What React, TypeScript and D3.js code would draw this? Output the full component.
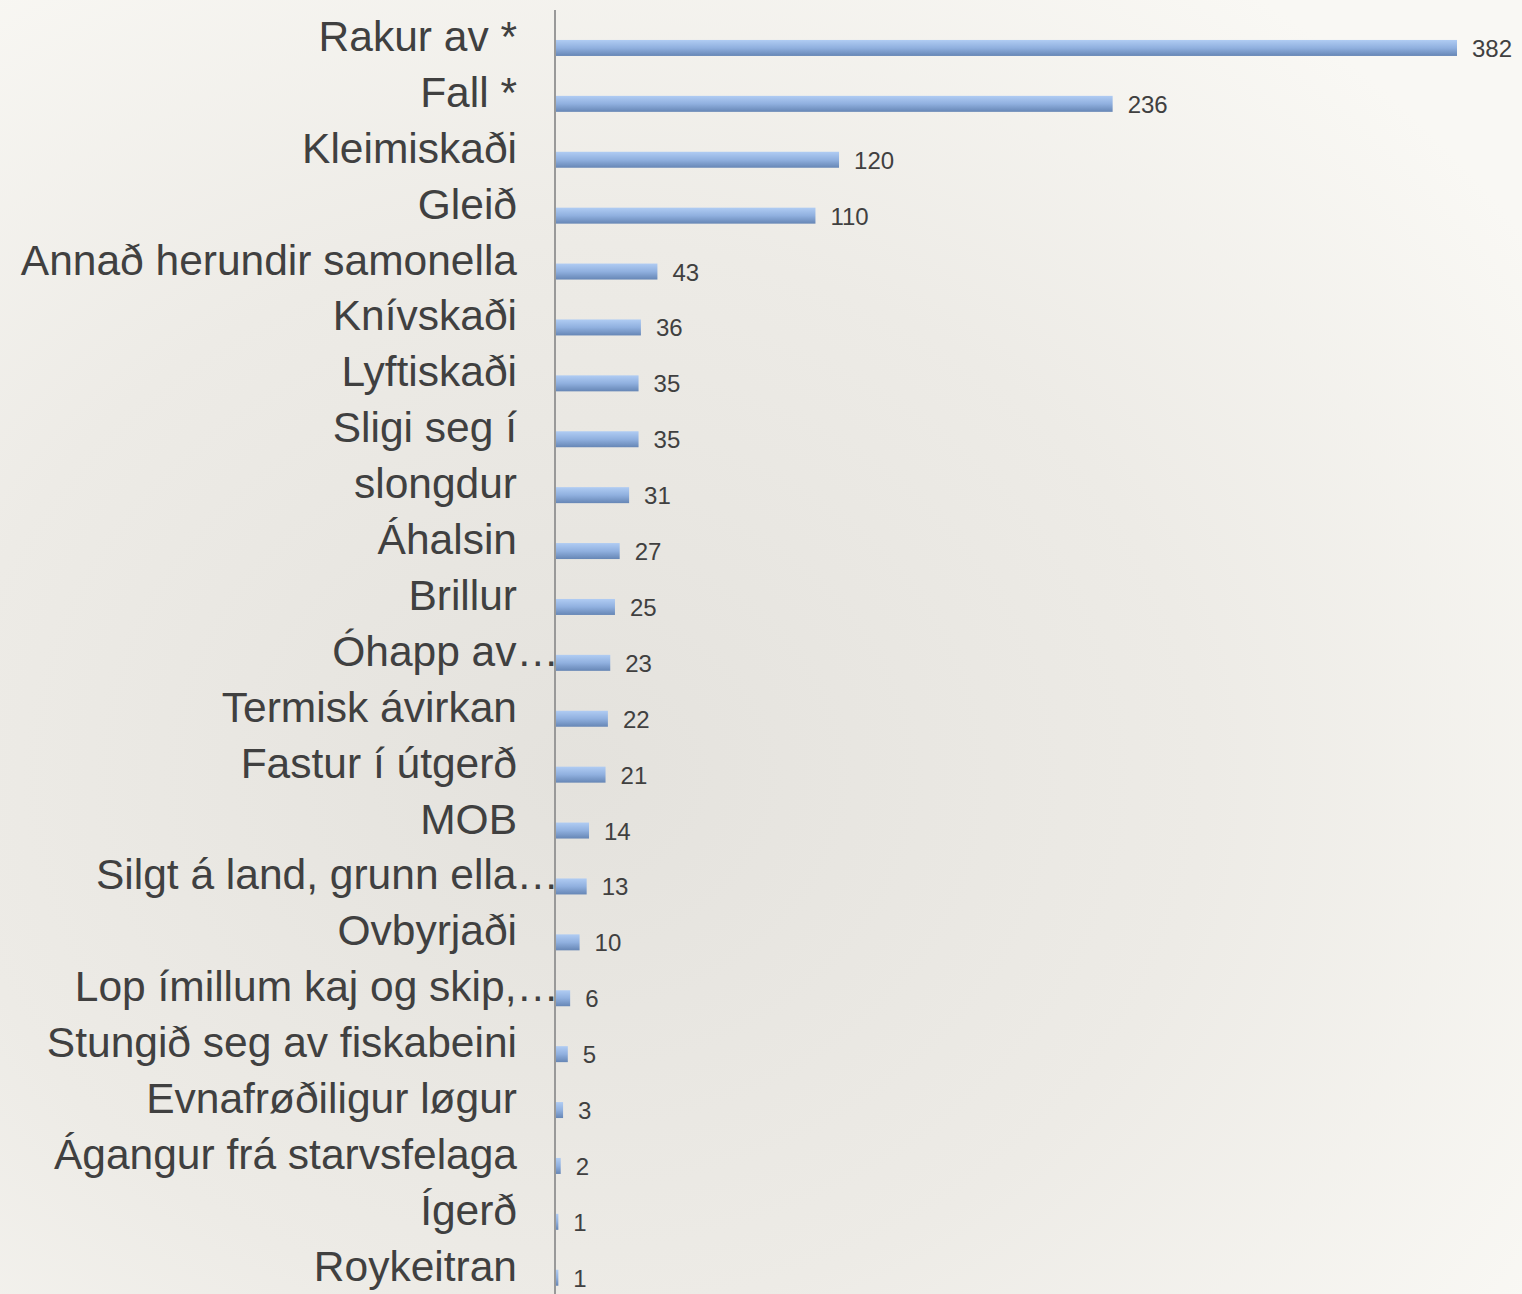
import React from "react";
import * as d3 from "d3";

const categories = [
  "Rakur av *",
  "Fall *",
  "Kleimiskaði",
  "Gleið",
  "Annað herundir samonella",
  "Knívskaði",
  "Lyftiskaði",
  "Sligi seg í",
  "slongdur",
  "Áhalsin",
  "Brillur",
  "Óhapp av…",
  "Termisk ávirkan",
  "Fastur í útgerð",
  "MOB",
  "Silgt á land, grunn ella…",
  "Ovbyrjaði",
  "Lop ímillum kaj og skip,…",
  "Stungið seg av fiskabeini",
  "Evnafrøðiligur løgur",
  "Ágangur frá starvsfelaga",
  "Ígerð",
  "Roykeitran",
];
const values = [382, 236, 120, 110, 43, 36, 35, 35, 31, 27, 25, 23, 22, 21, 14, 13, 10, 6, 5, 3, 2, 1, 1];

const W = 1522;
const H = 1294;

export default function App() {
  const step = 55.9;
  const y = d3
    .scaleBand<string>()
    .domain(categories)
    .range([20, 20 + categories.length * step])
    .paddingInner(0.714)
    .paddingOuter(0.357);
  const x = d3.scaleLinear().domain([0, 382]).range([556, 1457]);
  const bh = y.bandwidth();
  const font = "'Liberation Sans', Arial, Helvetica, sans-serif";

  return (
    <svg
      width={W}
      height={H}
      style={{ position: "absolute", left: 0, top: 0 }}
      xmlns="http://www.w3.org/2000/svg"
    >
      <defs>
        <radialGradient id="bg" cx="0.38" cy="0.6" r="0.75">
          <stop offset="0" stopColor="#e4e2dd" />
          <stop offset="0.55" stopColor="#edebe6" />
          <stop offset="1" stopColor="#f9f8f4" />
        </radialGradient>
        <linearGradient id="bar" x1="0" y1="0" x2="0" y2="1">
          <stop offset="0" stopColor="#b0ccf3" />
          <stop offset="0.5" stopColor="#90b0df" />
          <stop offset="1" stopColor="#6686b5" />
        </linearGradient>
      </defs>
      <rect x={0} y={0} width={W} height={H} fill="url(#bg)" />
      {categories.map((c, i) => {
        const top = y(c)!;
        const cy = top + bh / 2;
        const trunc = c.endsWith("…");
        return (
          <g key={c + i}>
            <rect
              x={x(0)}
              y={top}
              width={Math.max(0, x(values[i]) - x(0))}
              height={bh}
              fill="url(#bar)"
            />
            <text
              x={x(values[i]) + 15}
              y={cy + 9}
              fontFamily={font}
              fontSize={24}
              fill="#404040"
            >
              {values[i]}
            </text>
            <text
              x={517}
              y={cy + 3}
              textAnchor={trunc ? "start" : "end"}
              fontFamily={font}
              fontSize={42.5}
              fill="#404040"
              ref={(el) => {
                if (el && trunc) {
                  const w = el.getComputedTextLength();
                  el.setAttribute("x", String(559 - w));
                }
              }}
            >
              {c}
            </text>
          </g>
        );
      })}
      <line x1={555} x2={555} y1={10} y2={H} stroke="#999" strokeWidth={2} />
    </svg>
  );
}
